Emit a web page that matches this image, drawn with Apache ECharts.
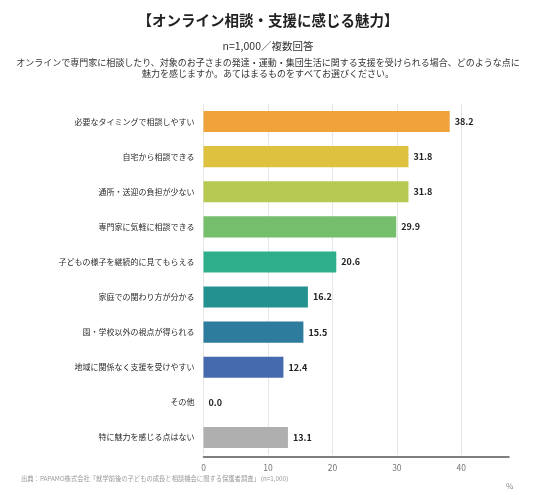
<!DOCTYPE html>
<html>
<head>
<meta charset="utf-8">
<script src="https://cdn.jsdelivr.net/npm/echarts@6/dist/echarts.min.js"></script>
<style>
  html, body { margin: 0; padding: 0; background: #fff; }
  #chart { width: 536px; height: 495px; }
</style>
</head>
<body>
<div id="chart"></div>
<script>
// 項目（上から順）
const categories = [
  "必要なタイミングで相談しやすい",
  "自宅から相談できる",
  "通所・送迎の負担が少ない",
  "専門家に気軽に相談できる",
  "子どもの様子を継続的に見てもらえる",
  "家庭での関わり方が分かる",
  "園・学校以外の視点が得られる",
  "地域に関係なく支援を受けやすい",
  "その他",
  "特に魅力を感じる点はない"
];
const values = [38.2, 31.8, 31.8, 29.9, 20.6, 16.2, 15.5, 12.4, 0.0, 13.1];
const barColors = [
  "#F0A23B", "#DEC23F", "#B7C853", "#75BE6C", "#2EAE8A",
  "#23918F", "#2D7B9D", "#456AAE", "#5A5AA0", "#AFAFAF"
];
const tickValues = [0, 10, 20, 30, 40];
const questionLines = [
  "オンラインで専門家に相談したり、対象のお子さまの発達・運動・集団生活に関する支援を受けられる場合、どのような点に",
  "魅力を感じますか。あてはまるものをすべてお選びください。"
];

const font = "'Noto Sans CJK JP', 'Noto Sans', sans-serif";
const chart = echarts.init(document.getElementById("chart"));

chart.setOption({
  animation: false,
  textStyle: { fontFamily: font },
  title: [
    {
      text: "【オンライン相談・支援に感じる魅力】",
      left: "center", top: 8,
      textStyle: { fontFamily: font, fontSize: 14.5, fontWeight: "bold", color: "#222" }
    },
    {
      text: "n=1,000／複数回答",
      left: "center", top: 36,
      textStyle: { fontFamily: font, fontSize: 10.5, fontWeight: "normal", color: "#333" }
    },
    {
      text: "出典：PAPAMO株式会社「就学前後の子どもの成長と相談機会に関する保護者調査」（n=1,000）",
      left: 16, top: 470,
      textStyle: { fontFamily: font, fontSize: 6.3, fontWeight: "normal", color: "#999" }
    },
    {
      text: "%",
      left: 501, top: 477,
      textStyle: { fontFamily: font, fontSize: 8, fontWeight: "normal", color: "#888" }
    }
  ],
  graphic: questionLines.map((line, i) => ({
    type: "text",
    left: "center",
    top: 58 + i * 11,
    style: { text: line, font: "9px " + font, fill: "#333" }
  })),
  grid: { left: 203.5, top: 104, width: 305.5, height: 351 },
  xAxis: {
    type: "value",
    min: 0,
    max: 47.4,
    interval: 10,
    offset: 2,
    axisLine: { show: true, lineStyle: { color: "#555", width: 1.5 } },
    axisTick: { show: false },
    axisLabel: {
      color: "#777", fontSize: 8.5, margin: 7,
      formatter: v => (tickValues.includes(v) ? String(v) : "")
    },
    splitLine: {
      show: true,
      lineStyle: { color: ["#e6e6e6", "#e6e6e6", "#e6e6e6", "#e6e6e6", "#e6e6e6", "rgba(0,0,0,0)"], width: 1 }
    }
  },
  yAxis: {
    type: "category",
    inverse: true,
    data: categories,
    axisLine: { show: false },
    axisTick: { show: false },
    axisLabel: { color: "#2a2a2a", fontSize: 8, margin: 9 }
  },
  series: [{
    type: "bar",
    data: values.map((v, i) => ({ value: v, itemStyle: { color: barColors[i] } })),
    barWidth: "60%",
    label: {
      show: true,
      position: "right",
      distance: 5,
      formatter: p => p.value.toFixed(1),
      color: "#222",
      fontSize: 9,
      fontWeight: "bold"
    }
  }]
});
</script>
</body>
</html>
